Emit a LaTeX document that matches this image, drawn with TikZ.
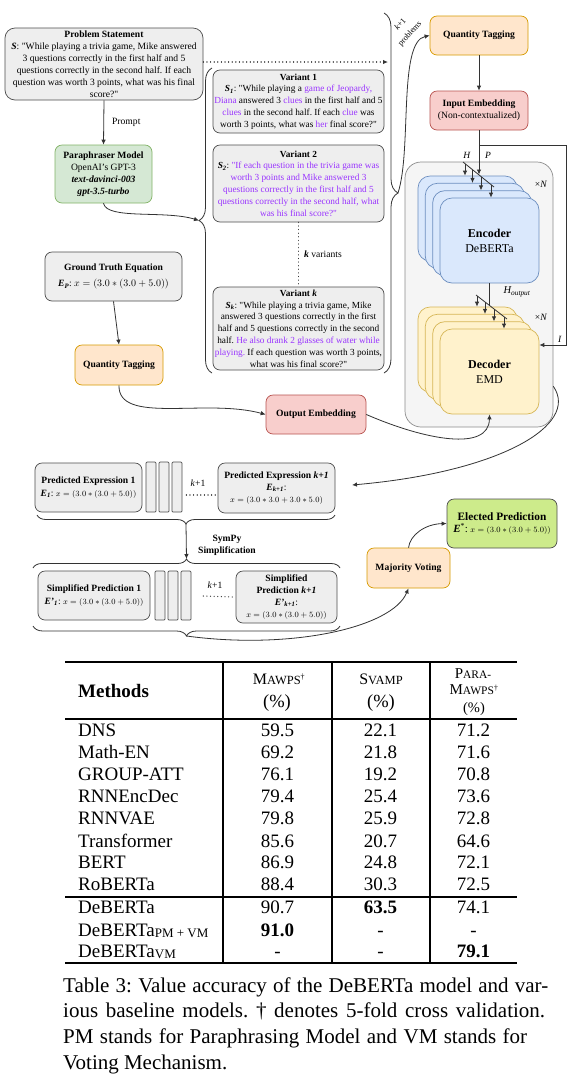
\documentclass[tikz,border=0pt]{standalone}
\usepackage{amsmath}
\usepackage[no-math]{fontspec}
\setmainfont{Liberation Serif}
\usetikzlibrary{arrows.meta,decorations.pathreplacing,calc}
\frenchspacing

\definecolor{gfill}{HTML}{EEEEEE}
\definecolor{gline}{HTML}{4D4D4D}
\definecolor{grfill}{HTML}{D5E8D4}
\definecolor{grline}{HTML}{82B366}
\definecolor{orfill}{HTML}{FFE6CC}
\definecolor{orline}{HTML}{D79B00}
\definecolor{rdfill}{HTML}{F8CECC}
\definecolor{rdline}{HTML}{B85450}
\definecolor{blfill}{HTML}{DAE8FC}
\definecolor{blline}{HTML}{6C8EBF}
\definecolor{yefill}{HTML}{FFF2CC}
\definecolor{yeline}{HTML}{D6B656}
\definecolor{elfill}{HTML}{CDEB8B}
\definecolor{cofill}{HTML}{F5F5F5}
\definecolor{coline}{HTML}{8C8C8C}
\definecolor{ink}{HTML}{333333}
\definecolor{purp}{HTML}{9933FF}

\newcommand\fs{\fontsize{9.6}{12}\selectfont}
\newcommand\vf{\fontsize{9.3}{11.8}\selectfont}
\newcommand\eqs{\fontsize{7.8}{9.5}\selectfont}
\newcommand\tf{\fontsize{19}{22}\selectfont}
\newcommand\cf{\fontsize{21}{26}\selectfont}
\newcommand\pu[1]{\textcolor{purp}{#1}}
\newcommand\qq{\textquotedbl}
\newcommand\scM[2]{{\fontsize{16}{18}\selectfont #1}{\fontsize{12.5}{14}\selectfont #2}}
\newcommand\scN[2]{{\fontsize{15}{17}\selectfont #1}{\fontsize{11.5}{13}\selectfont #2}}
\newcommand\subsc[1]{\raisebox{-1.5pt}{\fontsize{13}{14}\selectfont #1}}

\tikzset{
  base/.style={draw, rounded corners=7pt, align=center, inner sep=0pt, text=black, line width=0.7pt, font=\fs},
  gbox/.style={base, fill=gfill, draw=gline},
  grbox/.style={base, fill=grfill, draw=grline},
  obox/.style={base, fill=orfill, draw=orline},
  rbox/.style={base, fill=rdfill, draw=rdline},
  bbox/.style={base, fill=blfill, draw=blline, rounded corners=12pt, minimum width=99pt, minimum height=85pt},
  ybox/.style={base, fill=yefill, draw=yeline, rounded corners=12pt, minimum width=99pt, minimum height=85pt},
  ebox/.style={base, fill=elfill, draw=gline},
  cbox/.style={base, fill=cofill, draw=coline, rounded corners=16pt},
  thin/.style={draw=gline, fill=gfill, line width=0.7pt, rounded corners=1pt, minimum width=10pt, inner sep=0pt},
  arr/.style={-{Latex[length=5pt,width=4.5pt]}, draw=ink, line width=0.8pt},
  ln/.style={draw=ink, line width=0.8pt},
  brc/.style={decorate, decoration={brace, amplitude=#1}, draw=ink, line width=0.8pt},
  dots/.style={draw=ink, line width=1.3pt, dash pattern=on 0.01pt off 3.6pt, line cap=round},
  lbl/.style={inner sep=0pt, font=\fs},
}

\begin{document}
\begin{tikzpicture}[x=1pt,y=-1pt]
\useasboundingbox (0,0) rectangle (578,1080);
\fill[white] (0,0) rectangle (578,1080);

% ---------------- top-left: problem and paraphraser
\node[gbox, minimum width=198pt, minimum height=72pt, rounded corners=10pt] (ps) at (104,64)
 {\textbf{Problem Statement}\\ \textbf{\textit{S}}: \qq While playing a trivia game, Mike answered\\
  3 questions correctly in the first half and 5\\ questions correctly in the second half. If each\\
  question was worth 3 points, what was his final\\ score?\qq};

\node[grbox, minimum width=97pt, minimum height=58pt] (para) at (103.5,174)
 {\textbf{Paraphraser Model}\\ OpenAI's GPT-3\\ \textbf{\textit{text-davinci-003}}\\ \textbf{\textit{gpt-3.5-turbo}}};

\draw[arr] (ps.south) -- (para.north) node[midway, right, lbl, xshift=8pt] {Prompt};

% ---------------- variants
\node[gbox, font=\vf, minimum width=171pt, minimum height=63pt] (v1) at (298.5,101.5)
 {\textbf{Variant 1}\\ \textbf{\textit{S\textsubscript{1}}}: \qq While playing a \pu{game of Jeopardy,}\\
  \pu{Diana} answered 3 \pu{clues} in the first half and 5\\ \pu{clues} in the second half. If each \pu{clue} was\\
  worth 3 points, what was \pu{her} final score?\qq};

\node[gbox, font=\vf, minimum width=171pt, minimum height=77pt] (v2) at (298.5,183.5)
 {\textbf{Variant 2}\\ \textbf{\textit{S\textsubscript{2}}}: \pu{\qq If each question in the trivia game was}\\
  \pu{worth 3 points and Mike answered 3}\\ \pu{questions correctly in the first half and 5}\\
  \pu{questions correctly in the second half, what}\\ \pu{was his final score?\qq}};

\node[gbox, font=\vf, minimum width=171pt, minimum height=83pt] (vk) at (298.5,328.5)
 {\textbf{Variant \textit{k}}\\ \textbf{\textit{S\textsubscript{k}}}: \qq While playing a trivia game, Mike\\
  answered 3 questions correctly in the first\\ half and 5 questions correctly in the second\\
  half. \pu{He also drank 2 glasses of water while}\\ \pu{playing.} If each question was worth 3 points,\\
  what was his final score?\qq};

\draw[dots] (v2.south) -- (vk.north);
\node[lbl, anchor=west] (kv) at (304,254) {\textbf{\textit{k}} variants};

\draw[brc=13pt] (212,373) -- (212,68);
\coordinate (lbt) at (199,220.5);
\draw[arr] (para.south) .. controls (107,220) and (165,210) .. (lbt);

\draw[brc=14pt] (384,13) -- (384,373);
\coordinate (rbt) at (398,193);
\coordinate (dotend) at (388,62);
\draw[dots, -{Latex[length=5pt,width=4.5pt]}] ([yshift=2pt]ps.east) -- (dotend);

% ---------------- ground truth
\node[gbox, minimum width=137pt, minimum height=49pt] (gt) at (113.5,276.5)
 {\textbf{Ground Truth Equation}\\[4pt] \textbf{\textit{E\textsubscript{P}}}: {\fontsize{10}{12}\selectfont $x=(3.0\ast(3.0+5.0))$}};
\node[obox, minimum width=88pt, minimum height=40pt] (qt1) at (119,365) {\textbf{Quantity Tagging}};
\draw[arr] (gt.south) -- (qt1.north);

\node[rbox, minimum width=100pt, minimum height=39pt] (oe) at (316,414.5) {\textbf{Output Embedding}};
\draw[arr] (qt1.south) .. controls (118,425) and (205,398) .. (oe.west);

% ---------------- right column
\node[obox, minimum width=98pt, minimum height=39pt] (qt2) at (479,35.5) {\textbf{Quantity Tagging}};
\node[rbox, minimum width=98pt, minimum height=39pt] (ie) at (479,110.5) {\textbf{Input Embedding}\\(Non-contextualized)};
\draw[arr] (qt2.south) -- (ie.north);
\draw[arr] (rbt) .. controls (412,150) and (398,42) .. (qt2.west);
\node[lbl, rotate=48, font=\fontsize{8.2}{9.2}\selectfont] (kpa) at (400,24) {\textit{k}+1};
\node[lbl, rotate=48, font=\fontsize{8.2}{9.2}\selectfont] (kpb) at (410,34) {problems};

\node[cbox, minimum width=148pt, minimum height=265pt] (cont) at (479,294.5) {};

\node[bbox] (ea) at (467.5,218.5) {};
\node[bbox] (eb) at (474.8,225.8) {};
\node[bbox] (ec) at (482.2,233.2) {};
\node[bbox, font=\fontsize{12}{15}\selectfont] (enc) at (489.5,240.5) {\textbf{Encoder}\\DeBERTa};

\node[ybox] (da) at (467.5,349.5) {};
\node[ybox] (db) at (474.8,356.8) {};
\node[ybox] (dc) at (482.2,364.2) {};
\node[ybox, font=\fontsize{12}{15}\selectfont] (dec) at (489.5,371.5) {\textbf{Decoder}\\EMD};

\node[lbl] (xn1) at (541,184) {×\textit{N}};
\node[lbl] (xn2) at (541,317) {×\textit{N}};

% H / P inputs
\draw[ln] (463,162) -- (494,187);
\draw[arr] (465,163.6) -- (465,0 |- ea.north);
\draw[arr] (472.5,169.7) -- (472.5,0 |- eb.north);
\draw[arr] (481,176.5) -- (481,0 |- ec.north);
\draw[arr] (491,184.6) -- (491,0 |- enc.north);
\coordinate (pin) at (479,174.5);
\draw[arr] (ie.south) -- (pin);
\node[lbl, font=\fontsize{9.5}{10}\selectfont] (hl) at (467,155) {\textit{H}};
\node[lbl, font=\fontsize{9.5}{10}\selectfont] (pl) at (488,155) {\textit{P}};

\coordinate (iturn) at (566,345);
\draw[arr] (ie.south) -- ++(0,15) -| (iturn) -- (iturn -| dec.east);
\node[lbl, font=\fontsize{9.5}{10}\selectfont] (il) at (560,339) {\textit{I}};

% H_output
\draw[ln] (476,295) -- (507,319);
\draw[ln] (enc.south) -- (489.5,305.4);
\draw[arr] (477,295.8) -- (477,0 |- da.north);
\draw[arr] (485,302) -- (485,0 |- db.north);
\draw[arr] (494,309) -- (494,0 |- dc.north);
\draw[arr] (504,316.7) -- (504,0 |- dec.north);
\node[lbl, font=\fontsize{10.5}{11}\selectfont] (hol) at (517,292) {\textit{H\textsubscript{output}}};

\draw[arr] (oe.east) .. controls (425,440) and (489,452) .. (dec.south);

% ---------------- predicted expressions
\coordinate (predin) at (352,485);
\draw[arr] (cont.-51.6) .. controls (580,425) and (500,472) .. (predin);

\node[gbox, minimum width=107pt, minimum height=49pt] (pe1) at (88.5,487.5)
 {\textbf{Predicted Expression 1}\\[1pt] \textbf{\textit{E\textsubscript{1}}}: {\eqs $x=(3.0\ast(3.0+5.0))$}};
\node[thin, minimum height=50pt] (pa) at (151,487) {};
\node[thin, minimum height=50pt] (pb) at (164,487) {};
\node[thin, minimum height=50pt] (pc) at (177,487) {};
\node[gbox, minimum width=117pt, minimum height=50pt] (pek) at (276.5,488)
 {\textbf{Predicted Expression \textit{k+1}}\\ \textbf{\textit{E\textsubscript{k+1}}}:\\ {\eqs $x=(3.0\ast3.0+3.0\ast5.0)$}};
\draw[dots] ([xshift=4pt,yshift=-8pt]pc.east) -- ([xshift=-2pt,yshift=-7pt]pek.west);
\node[lbl] (k1a) at (198,483) {\textit{k}+1};

\draw[brc=9pt] (335,515) -- (37,515);
\coordinate (b1) at (186,524);
\coordinate (b2) at (186.5,559);
\draw[arr] (b1) -- (b2);
\node[lbl, align=center, font=\fs\bfseries] (sym) at (227,545) {SymPy\\Simplification};

% ---------------- simplified predictions
\draw[brc=9pt] (33,568) -- (340,568);
\node[gbox, minimum width=112pt, minimum height=49pt] (sp1) at (94,595.5)
 {\textbf{Simplified Prediction 1}\\[1pt] \textbf{\textit{E'\textsubscript{1}}}: {\eqs $x=(3.0\ast(3.0+5.0))$}};
\node[thin, minimum height=49pt] (sa) at (160,595.5) {};
\node[thin, minimum height=49pt] (sb) at (173,595.5) {};
\node[thin, minimum height=49pt] (sc) at (186,595.5) {};
\node[gbox, minimum width=101pt, minimum height=52pt] (spk) at (286.5,597)
 {\textbf{Simplified}\\ \textbf{Prediction \textit{k+1}}\\ \textbf{\textit{E'\textsubscript{k+1}}}:\\ {\eqs $x=(3.0\ast(3.0+5.0))$}};
\draw[dots] ([xshift=12pt,yshift=-0.5pt]sc.east) -- ([xshift=-2pt,yshift=0pt]spk.west);
\node[lbl] (k1b) at (215,585) {\textit{k}+1};
\draw[brc=10pt] (340,626) -- (33,626);
\coordinate (b3) at (186.5,636);

\node[obox, minimum width=83pt, minimum height=40pt] (mv) at (408.5,568) {\textbf{Majority Voting}};
\node[ebox, minimum width=110pt, minimum height=49pt] (ep) at (502,523.5)
 {{\fontsize{11.3}{14}\selectfont\textbf{Elected Prediction}}\\ {\fontsize{11}{13}\selectfont\textbf{\textit{E}}\textsuperscript{*}:} {\eqs $x=(3.0\ast(3.0+5.0))$}};
\draw[arr] (b3) .. controls (290,650) and (392,628) .. (mv.south);
\draw[arr] (mv.north) .. controls (410,535) and (425,524) .. (ep.west);

% ---------------- table
\draw[line width=1.3pt] (65,662) -- (517,662);
\draw[line width=1.1pt] (65,719) -- (517,719);
\draw[line width=1.1pt] (65,897) -- (517,897);
\draw[line width=1.3pt] (65,963) -- (517,963);
\foreach \x in {223,332,430} \draw[line width=1.1pt] (\x,662) -- (\x,963);

\node[anchor=base west, inner sep=0pt, font=\tf\bfseries] (mh) at (78,697) {Methods};
\node[anchor=base, inner sep=0pt] (h1) at (279,684) {\scM{M}{AWPS}{\fontsize{12}{14}\selectfont\textsuperscript{†}}};
\node[anchor=base, inner sep=0pt, font=\fontsize{18.5}{20}\selectfont] (h1b) at (277,707) {(\%)};
\node[anchor=base, inner sep=0pt] (h2) at (381,684) {\scM{S}{VAMP}};
\node[anchor=base, inner sep=0pt, font=\fontsize{18.5}{20}\selectfont] (h2b) at (381,707) {(\%)};
\node[anchor=base, inner sep=0pt] (h3) at (473,678) {\scN{P}{ARA-}};
\node[anchor=base, inner sep=0pt] (h3b) at (474,694) {\scN{M}{AWPS}{\fontsize{11}{13}\selectfont\textsuperscript{†}}};
\node[anchor=base, inner sep=0pt, font=\fontsize{14.5}{16}\selectfont] (h3c) at (474,712) {(\%)};

\foreach \nm/\a/\b/\c/\yb in {
  DNS/59.5/22.1/71.2/736,
  Math-EN/69.2/21.8/71.6/758,
  GROUP-ATT/76.1/19.2/70.8/780,
  RNNEncDec/79.4/25.4/73.6/802,
  RNNVAE/79.8/25.9/72.8/824,
  Transformer/85.6/20.7/64.6/847,
  BERT/86.9/24.8/72.1/868,
  RoBERTa/88.4/30.3/72.5/890,
  DeBERTa/90.7/{\textbf{63.5}}/74.1/913,
  {DeBERTa\subsc{PM + VM}}/{\textbf{91.0}}/-/-/936,
  {DeBERTa\subsc{VM}}/-/-/{\textbf{79.1}}/957}
{
  \node[anchor=base west, inner sep=0pt, font=\tf] at (78,\yb) {\nm};
  \node[anchor=base, inner sep=0pt, font=\tf] at (277.5,\yb) {\a};
  \node[anchor=base, inner sep=0pt, font=\tf] at (380.5,\yb) {\b};
  \node[anchor=base, inner sep=0pt, font=\tf] at (473.5,\yb) {\c};
}

% ---------------- caption
\node[anchor=base west, inner sep=0pt, font=\cf] (c1) at (63,992) {\makebox[485pt][s]{Table 3: Value accuracy of the DeBERTa model and var-}};
\node[anchor=base west, inner sep=0pt, font=\cf] (c2) at (63,1017) {\makebox[482pt][s]{ious baseline models. † denotes 5-fold cross validation.}};
\node[anchor=base west, inner sep=0pt, font=\cf] (c3) at (63,1043) {\makebox[464pt][s]{PM stands for Paraphrasing Model and VM stands for}};
\node[anchor=base west, inner sep=0pt, font=\cf] (c4) at (63,1069) {Voting Mechanism.};
\end{tikzpicture}
\end{document}
